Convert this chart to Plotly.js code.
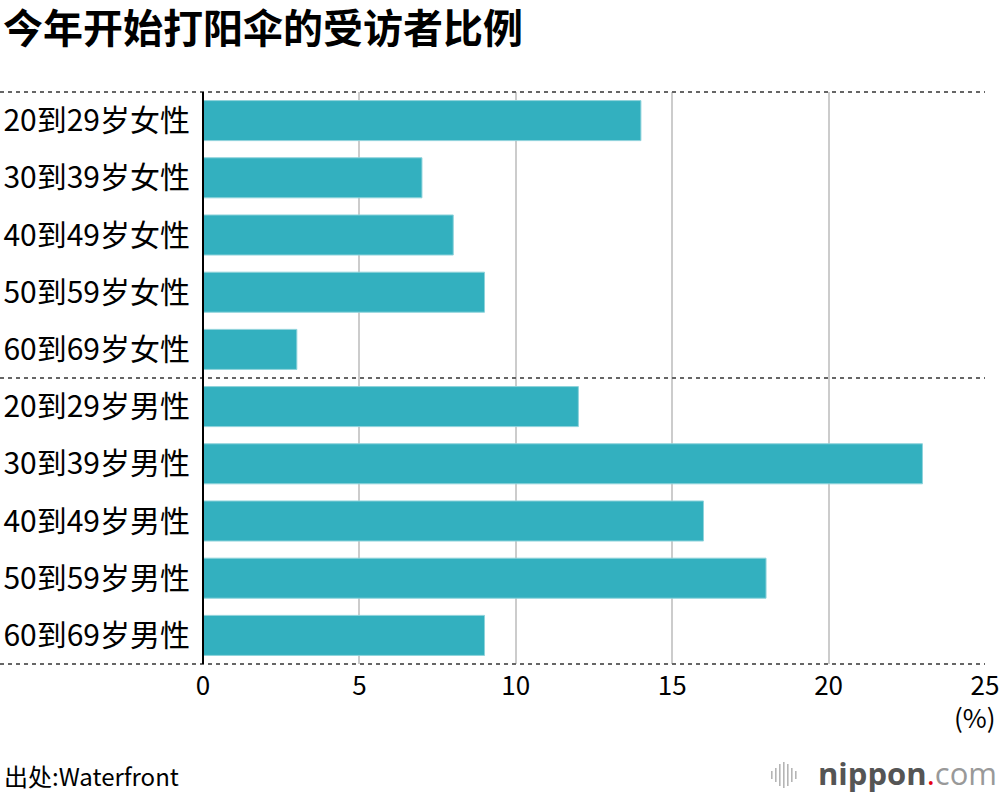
<!DOCTYPE html>
<html>
<head>
<meta charset="utf-8">
<script src="https://cdn.plot.ly/plotly-3.0.1.min.js"></script>
<style>html,body{margin:0;padding:0;background:#fff;}#chart{width:1000px;height:796px;}</style>
</head>
<body>
<div id="chart"></div>
<script>
const categories = ["20到29岁女性","30到39岁女性","40到49岁女性","50到59岁女性","60到69岁女性",
                    "20到29岁男性","30到39岁男性","40到49岁男性","50到59岁男性","60到69岁男性"];
const values = [14, 7, 8, 9, 3, 12, 23, 16, 18, 9];
const xTicks = [0, 5, 10, 15, 20, 25];

const FONT = '"Noto Sans CJK SC", "Noto Sans", sans-serif';
const NARROW = '"Liberation Sans Narrow", "Noto Sans CJK SC", sans-serif';
const lineStyle = {color: '#666', width: 2, dash: '4px,4px'};
const leftEdge = -203/782;
const px = v => (v - 203) / 782;          // horizontal pixel -> paper
const py = v => (664 - v) / 572;          // vertical pixel -> paper

const iconBars = [[771, 8], [775, 14], [779, 22], [783, 26], [787, 22], [791, 14], [795, 8]];
const iconShapes = iconBars.map(([x, h]) => ({
  type: 'rect', xref: 'paper', yref: 'paper', x0: px(x), x1: px(x + 1.6),
  y0: py(775 - h / 2), y1: py(775 + h / 2), fillcolor: '#b5b5b5', line: {width: 0}
}));

const data = [{
  type: 'bar',
  orientation: 'h',
  y: categories,
  x: values,
  marker: {color: '#33b0bf', line: {color: '#8fd3db', width: 1}},
  hoverinfo: 'x+y'
}];

const layout = {
  width: 1000, height: 796,
  margin: {l: 203, r: 15, t: 92, b: 132},
  paper_bgcolor: '#fff', plot_bgcolor: '#fff',
  bargap: 0.3,
  showlegend: false,
  font: {family: FONT, color: '#000'},
  title: {text: '<b>今年开始打阳伞的受访者比例</b>', x: 0.003, xanchor: 'left', y: 0.963, yanchor: 'middle',
          font: {family: FONT, size: 40, color: '#000'}},
  xaxis: {range: [0, 25], tickvals: xTicks, ticktext: xTicks.map(String), showgrid: true, gridcolor: '#cccccc', gridwidth: 2,
          zeroline: false, showline: false, ticks: '', tickfont: {size: 26, family: NARROW, color: '#000'}, fixedrange: true, ticklabelstandoff: 4},
  yaxis: {autorange: 'reversed', showgrid: false, zeroline: false, showline: false, ticks: '',
          tickfont: {size: 30, family: FONT, color: '#000'}, ticklabelstandoff: 12, fixedrange: true},
  shapes: [
    {type: 'line', xref: 'paper', yref: 'paper', x0: leftEdge, x1: 1, y0: 1, y1: 1, line: lineStyle},
    {type: 'line', xref: 'paper', yref: 'paper', x0: leftEdge, x1: 1, y0: 0, y1: 0, line: lineStyle},
    {type: 'line', xref: 'paper', yref: 'paper', x0: leftEdge, x1: 1, y0: 0.5, y1: 0.5, line: lineStyle},
    {type: 'line', xref: 'paper', yref: 'paper', x0: 0, x1: 0, y0: 0, y1: 1, line: {color: '#000', width: 2}}
  ].concat(iconShapes),
  annotations: [
    {text: '(%)', xref: 'paper', yref: 'paper', x: px(998), y: py(716), xanchor: 'right', yanchor: 'middle', showarrow: false,
     font: {size: 26, family: NARROW, color: '#000'}},
    {text: '出处:Waterfront', xref: 'paper', yref: 'paper', x: px(2), y: py(775), xanchor: 'left', yanchor: 'middle', showarrow: false,
     font: {size: 24, family: FONT, color: '#000'}},
    {text: '<b><span style="color:#555">nippon</span></b><span style="color:#e50012">.</span><span style="color:#999">com</span>',
     xref: 'paper', yref: 'paper', x: px(999), y: py(773), xanchor: 'right', yanchor: 'middle', showarrow: false,
     font: {size: 31, family: '"Open Sans", "Noto Sans", sans-serif'}}
  ]
};

Plotly.newPlot('chart', data, layout, {displayModeBar: false, staticPlot: true});
</script>
</body>
</html>
